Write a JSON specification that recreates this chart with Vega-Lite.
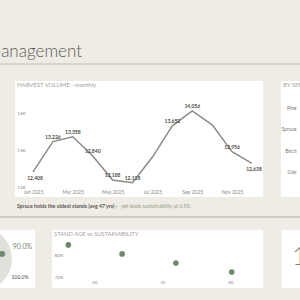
{
  "$schema": "https://vega.github.io/schema/vega-lite/v6.json",
  "background": "#efece6",
  "padding": {"left": -75, "top": 0, "right": 0, "bottom": 0},
  "config": {
    "view": {"stroke": null},
    "font": "Lato",
    "axis": {"grid": false, "domain": false, "ticks": false, "labelFont": "Lato", "labelColor": "#8a8a85"}
  },
  "spacing": 0,
  "bounds": "full",
  "vconcat": [
    {
      "width": 375, "height": 63,
      "view": {"fill": "#efece6"},
      "data": {"values": []},
      "mark": "point",
      "title": {"text": "Management", "orient": "top", "anchor": "start", "frame": "group", "offset": -73.5, "baseline": "alphabetic", "dx": 61, "fontSize": 17, "fontWeight": 300, "color": "#5a5a55"}
    },
    {"width": 375, "height": 2, "view": {"fill": "#d8d4cc"}, "data": {"values": []}, "mark": "point"},
    {"width": 375, "height": 16, "view": {"fill": "#efece6"}, "data": {"values": []}, "mark": "point"},
    {
      "spacing": 0,
      "bounds": "flush",
      "hconcat": [
        {"width": 90, "height": 116, "view": {"fill": "#efece6"}, "data": {"values": []}, "mark": "point"},
        {
          "width": 248, "height": 116,
          "view": {"fill": "#ffffff"},
          "title": {"text": "HARVEST VOLUME · monthly", "orient": "top", "anchor": "start", "frame": "group", "offset": -11.5, "baseline": "alphabetic", "dx": 2, "fontSize": 6, "fontWeight": "normal", "color": "#a3a39e"},
          "data": {"values": [
            {"month": "Jan 2025", "vol": 12408},
            {"month": "Feb 2025", "vol": 13226},
            {"month": "Mar 2025", "vol": 13358},
            {"month": "Apr 2025", "vol": 12840},
            {"month": "May 2025", "vol": 12188},
            {"month": "Jun 2025", "vol": 12118},
            {"month": "Jul 2025", "vol": 12809},
            {"month": "Aug 2025", "vol": 13652},
            {"month": "Sep 2025", "vol": 14056},
            {"month": "Oct 2025", "vol": 13681},
            {"month": "Nov 2025", "vol": 12956},
            {"month": "Dec 2025", "vol": 12638}
          ]},
          "encoding": {
            "x": {"field": "month", "type": "ordinal", "sort": null,
              "scale": {"type": "point", "padding": 0.73, "align": 0.62},
              "axis": {"values": ["Jan 2025", "Mar 2025", "May 2025", "Jul 2025", "Sep 2025", "Nov 2025"], "labelAngle": 0, "offset": -8, "labelPadding": 0, "labelFontSize": 5, "title": null}},
            "y": {"field": "vol", "type": "quantitative",
              "scale": {"domain": [11730, 14865], "nice": false, "zero": false},
              "axis": {"values": [12000, 13000, 14000], "labelExpr": "(datum.value/1000) + 'K'", "offset": -10, "labelPadding": 0, "labelFontSize": 4.5, "title": null}}
          },
          "layer": [
            {"mark": {"type": "line", "color": "#8c8c87", "strokeWidth": 1.5}},
            {
              "transform": [{"filter": "datum.month != 'Jul 2025' && datum.month != 'Oct 2025' && datum.month != 'Jan 2025' && datum.month != 'Dec 2025'"}],
              "mark": {"type": "text", "fontSize": 5, "color": "#4a4a45", "fontWeight": "bold", "dy": -5},
              "encoding": {"text": {"field": "vol", "type": "quantitative", "format": ","}}
            },
            {
              "transform": [{"filter": "datum.month == 'Jan 2025' || datum.month == 'Dec 2025'"}],
              "mark": {"type": "text", "fontSize": 5, "color": "#4a4a45", "fontWeight": "bold", "dy": 6, "dx": 2},
              "encoding": {"text": {"field": "vol", "type": "quantitative", "format": ","}}
            }
          ]
        },
        {"width": 18, "height": 116, "view": {"fill": "#efece6"}, "data": {"values": []}, "mark": "point"},
        {
          "width": 19, "height": 116,
          "view": {"fill": "#ffffff"},
          "title": {"text": "BY SPECIES", "orient": "top", "anchor": "start", "frame": "group", "offset": -11.5, "baseline": "alphabetic", "dx": 2, "fontSize": 6, "fontWeight": "normal", "color": "#a3a39e"},
          "data": {"values": [
            {"species": "Pine", "vol": 4200},
            {"species": "Spruce", "vol": 3600},
            {"species": "Birch", "vol": 2500},
            {"species": "Oak", "vol": 1400}
          ]},
          "mark": {"type": "bar", "color": "#7a9174", "clip": true},
          "encoding": {
            "y": {"field": "species", "type": "nominal", "sort": null,
              "scale": {"paddingInner": 0.4, "paddingOuter": 0.9, "align": 0.53},
              "axis": {"offset": -15, "labelPadding": 0, "labelFontSize": 5, "labelColor": "#77776f", "title": null}},
            "x": {"field": "vol", "type": "quantitative", "scale": {"range": [40, 200]}, "axis": null}
          }
        }
      ]
    },
    {
      "spacing": 0,
      "bounds": "flush",
      "hconcat": [
        {"width": 92, "height": 19, "view": {"fill": "#efece6"}, "data": {"values": []}, "mark": "point"},
        {"width": 104, "height": 19, "view": {"fill": "#efece6"}, "data": {"values": []}, "mark": "point",
          "title": {"text": "Spruce holds the oldest stands (avg 47 yrs) ·", "orient": "top", "anchor": "start", "frame": "group", "offset": -16.2, "baseline": "alphabetic", "fontSize": 5.2, "fontWeight": "bold", "color": "#55554f"}},
        {"width": 179, "height": 19, "view": {"fill": "#efece6"}, "data": {"values": []}, "mark": "point",
          "title": {"text": "yet leads sustainability at 0.93.", "orient": "top", "anchor": "start", "frame": "group", "offset": -16.2, "baseline": "alphabetic", "fontSize": 5.2, "fontWeight": "normal", "color": "#93a07f"}}
      ]
    },
    {"width": 375, "height": 2, "view": {"fill": "#cfccc4"}, "data": {"values": []}, "mark": "point"},
    {"width": 375, "height": 12, "view": {"fill": "#efece6"}, "data": {"values": []}, "mark": "point"},
    {
      "spacing": 0,
      "bounds": "flush",
      "hconcat": [
        {
          "width": 110, "height": 58,
          "view": {"fill": "#ffffff"},
          "layer": [
            {
              "data": {"values": [{"part": "track", "v": 1}]},
              "mark": {"type": "arc", "radius": 32, "radius2": 18, "color": "#e2e0db", "clip": true},
              "encoding": {"theta": {"field": "v", "type": "quantitative"}}
            },
            {
              "data": {"values": [{"label": "90.0%", "pct": 0.9}]},
              "mark": {"type": "text", "text": "●", "font": "DejaVu Sans", "fontSize": 8, "color": "#6f8a6b", "radius": 23},
              "encoding": {"theta": {"field": "pct", "type": "quantitative", "stack": null, "scale": {"domain": [0.9, 1], "range": [1.33, 2.02]}}}
            },
            {
              "data": {"values": [{"label": "90.0%", "pct": 0.9}, {"label": "100.0%", "pct": 1.0}]},
              "mark": {"type": "text", "radius": 44},
              "encoding": {
                "theta": {"field": "pct", "type": "quantitative", "stack": null, "scale": {"domain": [0.9, 1], "range": [1.3, 2.0]}},
                "text": {"field": "label"},
                "size": {"condition": {"test": "datum.pct == 1", "value": 5}, "value": 7},
                "color": {"condition": {"test": "datum.pct == 1", "value": "#4a4a45"}, "value": "#7d846f"}
              }
            }
          ],
          "resolve": {"scale": {"theta": "independent"}}
        },
        {"width": 17, "height": 58, "view": {"fill": "#efece6"}, "data": {"values": []}, "mark": "point"},
        {
          "width": 211, "height": 58,
          "view": {"fill": "#ffffff"},
          "title": {"text": "STAND AGE vs SUSTAINABILITY", "orient": "top", "anchor": "start", "frame": "group", "offset": -11.8, "baseline": "alphabetic", "dx": 2, "fontSize": 5.8, "fontWeight": "normal", "color": "#a3a39e"},
          "data": {"values": [
            {"species": "Birch", "age": 28.1, "sust": 0.846},
            {"species": "Pine", "age": 32.05, "sust": 0.805},
            {"species": "Oak", "age": 36.0, "sust": 0.764},
            {"species": "Spruce", "age": 40.1, "sust": 0.723}
          ]},
          "mark": {"type": "circle", "size": 32, "color": "#6f8a6b", "opacity": 1},
          "encoding": {
            "x": {"field": "age", "type": "quantitative", "scale": {"domain": [26.9, 42.4], "nice": false, "zero": false},
              "axis": {"values": [30, 35, 40], "offset": -9, "labelPadding": 0, "labelFontSize": 4.5, "title": null}},
            "y": {"field": "sust", "type": "quantitative", "scale": {"domain": [0.65, 0.914], "nice": false, "zero": false},
              "axis": {"values": [0.7, 0.8], "format": ".0%", "offset": -2, "labelAlign": "left", "labelPadding": 0, "labelFontSize": 4.5, "title": null}}
          }
        },
        {"width": 19, "height": 58, "view": {"fill": "#efece6"}, "data": {"values": []}, "mark": "point"},
        {
          "width": 18, "height": 58,
          "view": {"fill": "#ffffff"},
          "data": {"values": []},
          "mark": "point",
          "title": {"text": "1", "orient": "top", "anchor": "start", "frame": "group", "offset": -61, "baseline": "alphabetic", "dx": 10, "fontSize": 26, "fontWeight": 300, "color": "#7d846f"}
        }
      ]
    },
    {"width": 375, "height": 12, "view": {"fill": "#efece6"}, "data": {"values": []}, "mark": "point"}
  ]
}
